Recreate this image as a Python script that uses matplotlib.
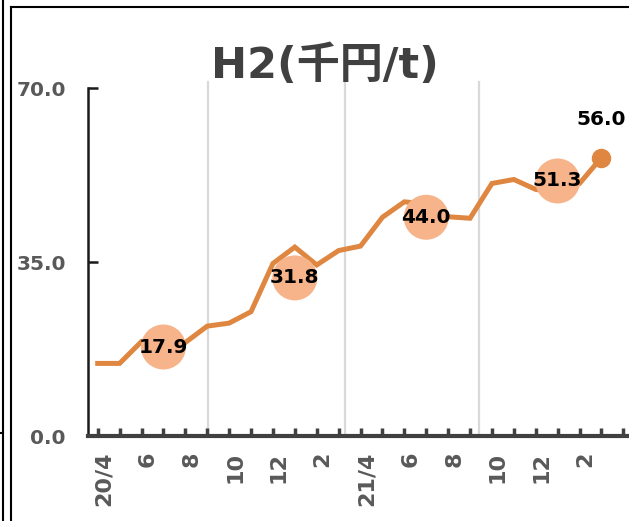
import matplotlib.pyplot as plt
import numpy as np
from matplotlib.lines import Line2D
from matplotlib.transforms import ScaledTranslation

# Monthly H2 price (thousand yen / t), 20/4 - 22/3
months = ['20/4', '', '6', '', '8', '', '10', '', '12', '', '2', '',
          '21/4', '', '6', '', '8', '', '10', '', '12', '', '2', '']
h2_price = [14.6, 14.6, 19.0, 18.3, 18.8, 22.1, 22.7, 25.0, 34.7, 38.0, 34.4, 37.3,
            38.2, 44.0, 47.1, 46.7, 44.1, 43.8, 50.8, 51.6, 49.6, 49.0, 50.8, 56.0]

# Half-year averages, drawn at the 4th month of each half
avg_pos = [3, 9, 15, 21]
avg_values = [17.9, 31.8, 44.0, 51.3]

# separators between half-years (as drawn)
sep_pos = [5.05, 11.28, 17.41]

line_color = '#DF8741'
circle_color = '#F7B48B'
axis_gray = '#595959'

fig = plt.figure(figsize=(6.29, 5.21), dpi=100)
W, H = 629, 521
ax = fig.add_axes([88 / W, 85 / H, 552 / W, 348 / H])

x = np.arange(len(h2_price))

# separator lines
for p in sep_pos:
    ax.axvline(p, ymin=0, ymax=1.017, color='#D9D9D9', lw=1.6, clip_on=False, zorder=1)

# main line
ax.plot(x, h2_price, color=line_color, lw=3.6, solid_joinstyle='miter', zorder=2)
ax.plot(x[-1], h2_price[-1], 'o', color=line_color, ms=13, zorder=3)
ax.annotate(f'{h2_price[-1]:.1f}', (x[-1], h2_price[-1]), xytext=(0, 38),
            textcoords='offset pixels', ha='center', va='center',
            fontsize=14.5, fontweight='bold', color='black', zorder=5)

# half-year averages
ax.scatter(avg_pos, avg_values, s=1050, color=circle_color, edgecolors='none', zorder=3)
for p, v in zip(avg_pos, avg_values):
    ax.text(p, v, f'{v:.1f}', ha='center', va='center', fontsize=14.5,
            fontweight='bold', color='black', zorder=5)

ax.set_xlim(-0.443, 24.76)
ax.set_ylim(0, 70)
ax.set_yticks([0, 35, 70])
ax.set_yticklabels(['0.0', '35.0', '70.0'])
ax.set_xticks(np.arange(0, 25))
ax.set_xticklabels(months + [''], rotation=90, va='top', ha='center')

for s in ['top', 'right']:
    ax.spines[s].set_visible(False)
ax.spines['left'].set_linewidth(1.8)
ax.spines['left'].set_color('#1a1a1a')
ax.spines['bottom'].set_linewidth(3)
ax.spines['bottom'].set_color('#404040')

ax.tick_params(axis='y', direction='in', length=7, width=1.8, color='#1a1a1a',
               pad=16, labelsize=14.5, labelcolor=axis_gray)
ax.tick_params(axis='x', direction='in', length=6, width=2.5, color='#404040',
               pad=11.5, labelsize=16, labelcolor=axis_gray)
for lab in ax.get_yticklabels() + ax.get_xticklabels():
    lab.set_fontweight('bold')
offset = ScaledTranslation(6 / 100, 0, fig.dpi_scale_trans)
for lab in ax.get_xticklabels():
    lab.set_transform(lab.get_transform() + offset)

# title
fig.text(325 / W, 1 - 66 / H, 'H2(千円/t)', ha='center', va='center',
         fontsize=31, fontweight='bold', color='#404040',
         family=['DejaVu Sans', 'Noto Sans CJK JP'])

# chart area borders
fig.add_artist(Line2D([11 / W, 11 / W], [0, 1 - 7 / H], color='black', lw=1.5))
fig.add_artist(Line2D([11 / W, 1], [1 - 7 / H, 1 - 7 / H], color='black', lw=1.5))
fig.add_artist(Line2D([3 / W, 3 / W], [0, 1], color='black', lw=1.5))
fig.add_artist(Line2D([0, 3 / W], [1 - 433 / H, 1 - 433 / H], color='black', lw=1.5))

fig.savefig('out.png', dpi=100)
